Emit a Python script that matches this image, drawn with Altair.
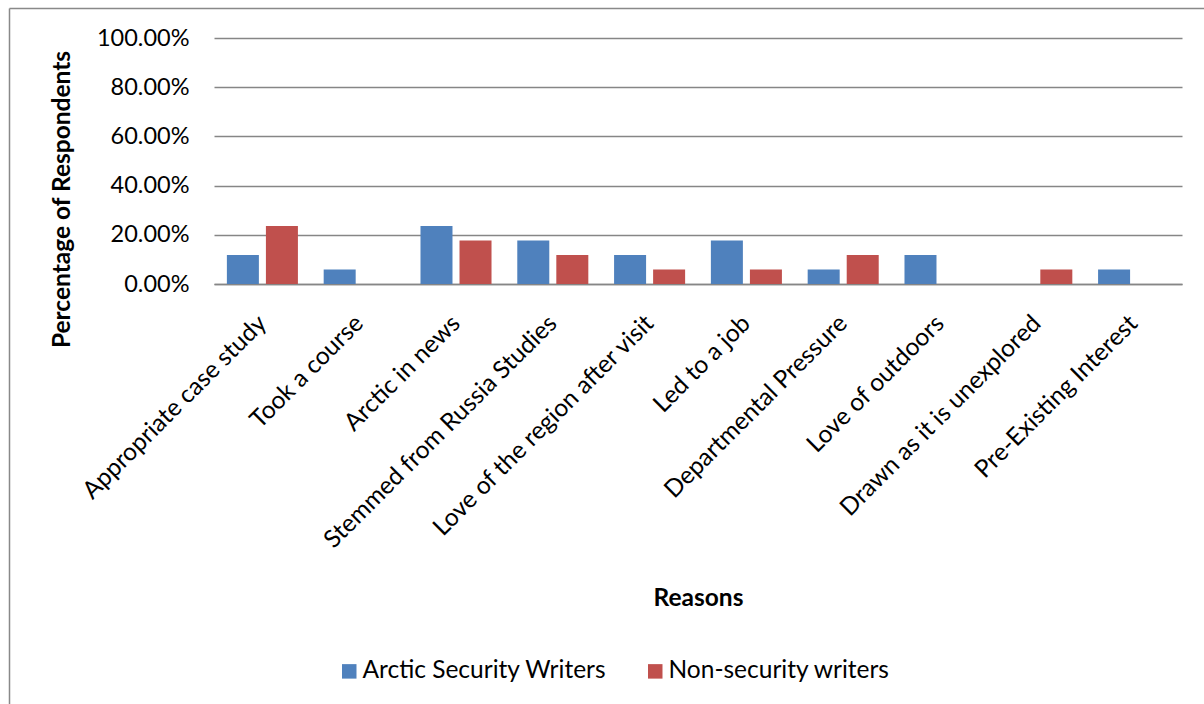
import altair as alt
import pandas as pd

# Reasons for choosing the Arctic as a research topic, share of respondents per group
reasons = [
    "Appropriate case study",
    "Took a course",
    "Arctic in news",
    "Stemmed from Russia Studies",
    "Love of the region after visit",
    "Led to a job",
    "Departmental Pressure",
    "Love of outdoors",
    "Drawn as it is unexplored",
    "Pre-Existing Interest",
]
series = ["Arctic Security Writers", "Non-security writers"]
security = [0.1176, 0.0588, 0.2353, 0.1765, 0.1176, 0.1765, 0.0588, 0.1176, 0.0, 0.0588]
non_security = [0.2353, 0.0, 0.1765, 0.1176, 0.0588, 0.0588, 0.1176, 0.0, 0.0588, 0.0]
y_ticks = [0.0, 0.2, 0.4, 0.6, 0.8, 1.0]
colors = ["#4F81BD", "#C0504D"]

rows = []
for i, r in enumerate(reasons):
    rows.append({"Reason": r, "Group": series[0], "Share": security[i]})
    rows.append({"Reason": r, "Group": series[1], "Share": non_security[i]})
df = pd.DataFrame(rows)

FONT = "Lato"
LABEL_SIZE = 23.5
CAT_SIZE = 24.5
LEGEND_SIZE = 24.5
TITLE_SIZE = 24.5
W, H = 968, 246
PAD_L, PAD_T = 214, 38
FULL_W, FULL_H = 1204, 704

bars = alt.Chart(df).mark_bar().encode(
    x=alt.X(
        "Reason:N",
        sort=reasons,
        scale=alt.Scale(paddingInner=0, paddingOuter=0),
        axis=alt.Axis(
            title="Reasons",
            titleX=W / 2,
            titleY=314,
            titleAlign="center",
            titleBaseline="middle",
            titleFontSize=TITLE_SIZE,
            titleFontWeight="bold",
            titleFont=FONT,
            labelAngle=-45,
            labelFontSize=CAT_SIZE,
            labelFont=FONT,
            labelColor="#000000",
            labelLimit=0,
            labelPadding=27,
            labelOffset=-8,
            ticks=False,
            domainColor="#868686",
            domainWidth=1.5,
        ),
    ),
    xOffset=alt.XOffset(
        "Group:N",
        sort=series,
        scale=alt.Scale(paddingInner=0.18, paddingOuter=0.33),
    ),
    y=alt.Y(
        "Share:Q",
        scale=alt.Scale(domain=[0, 1]),
        axis=alt.Axis(
            title="Percentage of Respondents",
            titleX=-152,
            titleY=161,
            titleAngle=-90,
            titleAlign="center",
            titleBaseline="middle",
            titleFontSize=TITLE_SIZE,
            titleFontWeight="bold",
            titleFont=FONT,
            values=y_ticks,
            format=".2%",
            labelFontSize=LABEL_SIZE,
            labelFont=FONT,
            labelColor="#000000",
            labelPadding=25,
            ticks=False,
            domain=False,
            gridColor="#868686",
            gridWidth=1.5,
        ),
    ),
    color=alt.Color(
        "Group:N",
        sort=series,
        scale=alt.Scale(domain=series, range=colors),
        legend=alt.Legend(
            title=None,
            orient="none",
            direction="horizontal",
            legendX=123,
            legendY=621,
            symbolType="square",
            symbolSize=210,
            symbolStrokeWidth=0,
            labelFontSize=LEGEND_SIZE,
            labelFont=FONT,
            labelColor="#000000",
            labelLimit=0,
            labelOffset=1,
            columnPadding=36,
        ),
    ),
)

# Outer chart frame (top and left edges)
one = alt.InlineData(values=[{"k": 1}])
frame_left = alt.Chart(one).mark_rule(color="#898989", strokeWidth=1.5).encode(
    x=alt.value(9.5 - PAD_L), y=alt.value(8.5 - PAD_T), y2=alt.value(FULL_H - PAD_T)
)
frame_top = alt.Chart(one).mark_rule(color="#898989", strokeWidth=1.5).encode(
    x=alt.value(9.5 - PAD_L), x2=alt.value(FULL_W - PAD_L), y=alt.value(8.5 - PAD_T)
)

chart = (
    alt.layer(bars, frame_left, frame_top)
    .properties(
        width=W,
        height=H,
        padding={"left": PAD_L, "top": PAD_T, "right": FULL_W - PAD_L - W, "bottom": FULL_H - PAD_T - H},
        autosize=alt.AutoSizeParams(type="none"),
        background="#ffffff",
    )
    .configure_view(stroke=None)
)

chart.save("out.html", embed_options={"renderer": "svg", "actions": False})
